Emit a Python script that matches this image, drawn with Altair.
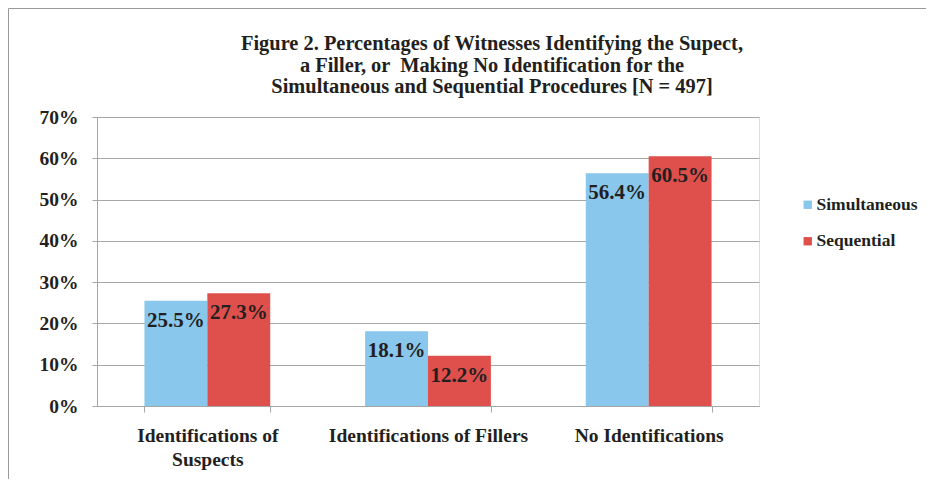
import altair as alt
import pandas as pd

categories = ["Identifications of Suspects", "Identifications of Fillers", "No Identifications"]
series = ["Simultaneous", "Sequential"]
simultaneous = [25.5, 18.1, 56.4]
sequential = [27.3, 12.2, 60.5]
y_ticks = [0, 10, 20, 30, 40, 50, 60, 70]
title_lines = [
    "Figure 2. Percentages of Witnesses Identifying the Supect,",
    "a Filler, or \u00a0Making No Identification for the",
    "Simultaneous and Sequential Procedures [N = 497]",
]

rows = []
for c, a, b in zip(categories, simultaneous, sequential):
    rows.append({"cat": c, "series": series[0], "value": a})
    rows.append({"cat": c, "series": series[1], "value": b})
df = pd.DataFrame(rows)

FONT = "Liberation Serif"
TXT = "#231f20"
GRID = "#a6a6a6"
W, H = 662, 289

x_enc = alt.X(
    "cat:N",
    sort=categories,
    title=None,
    scale=alt.Scale(paddingInner=0.43, paddingOuter=0.215),
    axis=alt.Axis(
        labelAngle=0,
        labelFont=FONT,
        labelFontSize=19.5,
        labelFontWeight="bold",
        labelColor=TXT,
        labelPadding=14,
        labelLineHeight=24,
        labelBaseline="top",
        labelLimit=0,
        labelExpr="datum.label == 'Identifications of Suspects' ? ['Identifications of', 'Suspects'] : datum.label",
        tickBand="extent",
        tickSize=6,
        tickColor=GRID,
        domainColor=GRID,
        grid=False,
    ),
)
y_enc = alt.Y(
    "value:Q",
    title=None,
    scale=alt.Scale(domain=[0, 70], nice=False),
    axis=alt.Axis(
        values=y_ticks,
        labelExpr="datum.value + '%'",
        labelFont=FONT,
        labelFontSize=19.5,
        labelFontWeight="bold",
        labelColor=TXT,
        labelPadding=14,
        tickSize=5,
        tickColor=GRID,
        domainColor=GRID,
        gridColor=GRID,
        grid=True,
    ),
)
xoff = alt.XOffset("series:N", sort=series, scale=alt.Scale(paddingInner=0, paddingOuter=0))

bars = alt.Chart(df).mark_bar().encode(
    x=x_enc,
    xOffset=xoff,
    y=y_enc,
    color=alt.Color(
        "series:N",
        sort=series,
        scale=alt.Scale(domain=series, range=["#89c7ed", "#df4f4c"]),
        legend=alt.Legend(
            title=None,
            orient="none",
            legendX=702,
            legendY=79,
            symbolType="square",
            symbolSize=70,
            symbolStrokeWidth=0,
            labelFont=FONT,
            labelFontSize=17.5,
            labelFontWeight="bold",
            labelColor=TXT,
            labelOffset=0,
            rowPadding=17.5,
            padding=0,
        ),
    ),
)

labels = alt.Chart(df).transform_calculate(
    lab="format(datum.value, '.1f') + '%'"
).mark_text(
    font=FONT, fontSize=21, fontWeight="bold", color=TXT, baseline="middle", dy=20
).encode(
    x=alt.X("cat:N", sort=categories),
    xOffset=xoff,
    y="value:Q",
    text="lab:N",
)

one = pd.DataFrame({"k": [0]})

border = alt.Chart(one).mark_rect(
    fill=None, stroke="#9a9a9a", strokeWidth=1
).encode(
    x=alt.value(-88.5), x2=alt.value(W + 400),
    y=alt.value(-108.5), y2=alt.value(H + 400),
)

title = alt.Chart(one).mark_text(
    text=title_lines,
    font=FONT,
    fontSize=20.4,
    fontWeight="bold",
    color=TXT,
    align="center",
    baseline="alphabetic",
    lineHeight=21.5,
).encode(
    x=alt.value(W / 2 + 64),
    y=alt.value(-67),
)

chart = alt.layer(border, title, bars, labels).properties(
    width=W,
    height=H,
    padding={"left": 89, "top": 109, "right": 167, "bottom": 73},
    autosize=alt.AutoSizeParams(type="none"),
).configure_view(stroke=None).configure(background="white")

chart.save("out.html", embed_options={"renderer": "svg", "actions": False})
